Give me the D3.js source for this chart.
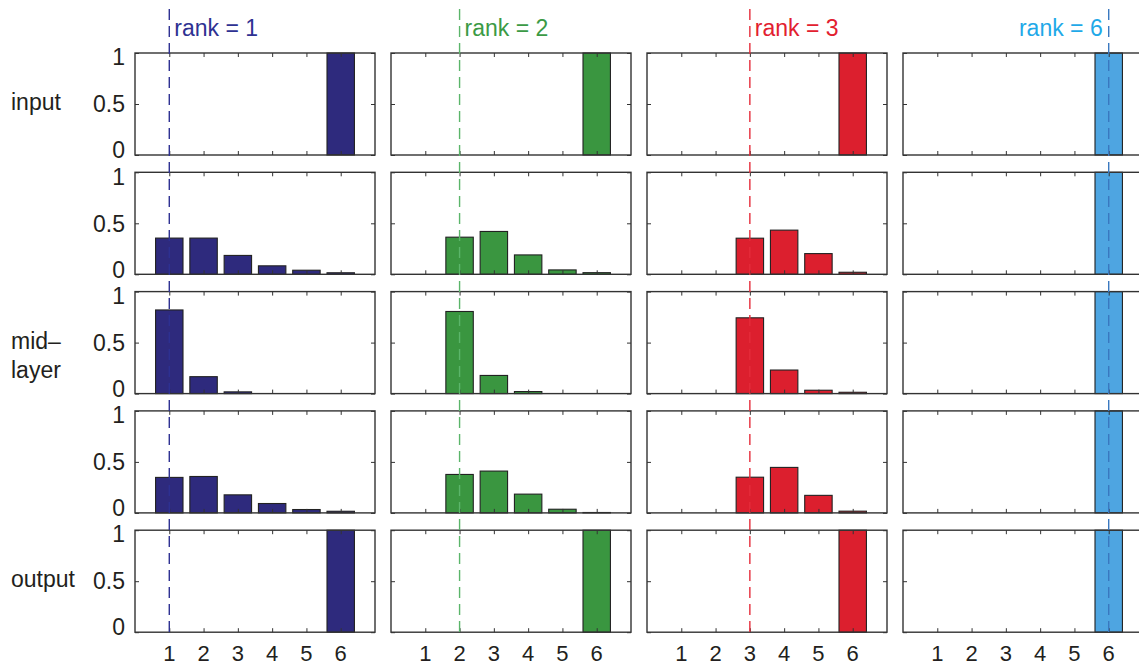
<!DOCTYPE html>
<html>
<head>
<meta charset="utf-8">
<script src="https://cdn.jsdelivr.net/npm/d3@7"></script>
<style>
  html, body { margin: 0; padding: 0; background: #fff; }
  svg { display: block; font-family: "Liberation Sans", Arial, Helvetica, sans-serif; }
</style>
</head>
<body>
<svg id="chart" width="1139" height="668"></svg>
<script>
// Rank of the item shown in each column
const ranks = [1, 2, 3, 6];
const positions = [1, 2, 3, 4, 5, 6];
const yTicks = [0, 0.5, 1];
const yTickLabels = ["0", "0.5", "1"];
const rowLabels = [["input"], [], ["mid\u2013", "layer"], [], ["output"]];

// Activation per position, one array per column (rank 1, 2, 3, 6)
const inputLayer = [
  [0, 0, 0, 0, 0, 1],
  [0, 0, 0, 0, 0, 1],
  [0, 0, 0, 0, 0, 1],
  [0, 0, 0, 0, 0, 1]
];
const encoderLayer = [
  [0.355, 0.355, 0.185, 0.083, 0.04, 0.015],
  [0, 0.364, 0.42, 0.19, 0.043, 0.016],
  [0, 0, 0.354, 0.433, 0.203, 0.02],
  [0, 0, 0, 0, 0, 1]
];
const midLayer = [
  [0.82, 0.166, 0.017, 0, 0, 0],
  [0, 0.805, 0.178, 0.02, 0, 0],
  [0, 0, 0.743, 0.231, 0.033, 0.013],
  [0, 0, 0, 0, 0, 1]
];
const decoderLayer = [
  [0.348, 0.357, 0.177, 0.092, 0.033, 0.016],
  [0, 0.377, 0.41, 0.184, 0.036, 0.004],
  [0, 0, 0.35, 0.446, 0.172, 0.017],
  [0, 0, 0, 0, 0, 1]
];
const outputLayer = [
  [0, 0, 0, 0, 0, 1],
  [0, 0, 0, 0, 0, 1],
  [0, 0, 0, 0, 0, 1],
  [0, 0, 0, 0, 0, 1]
];
const layers = [inputLayer, encoderLayer, midLayer, decoderLayer, outputLayer];

const barColors = ["#2e2a7d", "#3a9640", "#dc1f2e", "#4ea5e1"];
const lineColors = ["#2e3192", "#5bb56a", "#e52c3a", "#3a78c0"];
const textColors = ["#2e3192", "#3b9a45", "#e2202f", "#1fa9e8"];

// Layout
const colX0 = 135, colStep = 256, panelW = 240;
const rowY0 = 53, rowStep = 119.3, panelH = 102;
const textColor = "#231f20";
const frameColor = "#333";
const fontSize = 23;

const svg = d3.select("#chart");
const x = d3.scaleLinear().domain([0, 7]).range([0, panelW]);
const y = d3.scaleLinear().domain([0, 1]).range([panelH, 0]);
const barW = x(0.8) - x(0);

layers.forEach((layer, r) => {
  layer.forEach((vals, c) => {
    const g = svg.append("g")
      .attr("transform", `translate(${colX0 + c * colStep},${rowY0 + r * rowStep})`);

    g.append("rect")
      .attr("width", panelW).attr("height", panelH)
      .attr("fill", "#fff");

    g.selectAll("rect.bar")
      .data(vals.map((v, i) => ({ p: positions[i], v })).filter(d => d.v > 0))
      .join("rect")
      .attr("class", "bar")
      .attr("x", d => x(d.p) - barW / 2)
      .attr("y", d => y(d.v))
      .attr("width", barW)
      .attr("height", d => y(0) - y(d.v))
      .attr("fill", barColors[c])
      .attr("stroke", "#222")
      .attr("stroke-width", 1.1);

    // inward ticks on all four sides
    const tickLen = 4;
    const axisStyle = sel => {
      sel.select(".domain").remove();
      sel.selectAll("line").attr("stroke", frameColor).attr("stroke-width", 1);
    };
    g.append("g").attr("transform", `translate(0,${panelH})`)
      .call(d3.axisBottom(x).tickValues(positions).tickSize(-tickLen).tickFormat(""))
      .call(axisStyle);
    g.append("g")
      .call(d3.axisTop(x).tickValues(positions).tickSize(-tickLen).tickFormat(""))
      .call(axisStyle);
    g.append("g")
      .call(d3.axisLeft(y).tickValues(yTicks).tickSize(-tickLen).tickFormat(""))
      .call(axisStyle);
    g.append("g").attr("transform", `translate(${panelW},0)`)
      .call(d3.axisRight(y).tickValues(yTicks).tickSize(-tickLen).tickFormat(""))
      .call(axisStyle);

    g.append("rect")
      .attr("width", panelW).attr("height", panelH)
      .attr("fill", "none")
      .attr("stroke", frameColor)
      .attr("stroke-width", 1.4);

    // y tick labels on the first column; end labels nudged inward
    if (c === 0) {
      g.selectAll("text.ytick")
        .data(yTicks)
        .join("text")
        .attr("class", "ytick")
        .attr("x", -10)
        .attr("y", d => y(d) + (d === 1 ? 4 : d === 0 ? -5 : 0))
        .attr("dy", "0.36em")
        .attr("text-anchor", "end")
        .attr("font-size", fontSize)
        .attr("fill", textColor)
        .text((d, i) => yTickLabels[i]);
    }

    // x tick labels on the bottom row
    if (r === layers.length - 1) {
      g.selectAll("text.xtick")
        .data(positions)
        .join("text")
        .attr("class", "xtick")
        .attr("x", d => x(d))
        .attr("y", panelH + 29)
        .attr("text-anchor", "middle")
        .attr("font-size", 22)
        .attr("fill", textColor)
        .text(d => d);
    }
  });
});

// Row labels
rowLabels.forEach((lines, r) => {
  const cy = rowY0 + r * rowStep + panelH / 2;
  lines.forEach((t, i) => {
    svg.append("text")
      .attr("x", 11)
      .attr("y", cy - 2 + i * 29)
      .attr("dy", "0.36em")
      .attr("font-size", fontSize)
      .attr("fill", textColor)
      .text(t);
  });
});

// Rank marker lines and labels
const lastBottom = rowY0 + (layers.length - 1) * rowStep + panelH;
ranks.forEach((rk, c) => {
  const lx = colX0 + c * colStep + x(rk);
  svg.append("line")
    .attr("x1", lx).attr("x2", lx)
    .attr("y1", 9).attr("y2", lastBottom)
    .attr("stroke", lineColors[c])
    .attr("stroke-width", 1.4)
    .attr("stroke-dasharray", "11,6");
  const last = c === ranks.length - 1;
  svg.append("text")
    .attr("x", last ? lx - 6 : lx + 5)
    .attr("y", 36)
    .attr("text-anchor", last ? "end" : "start")
    .attr("font-size", fontSize)
    .attr("fill", textColors[c])
    .text(`rank = ${rk}`);
});
</script>
</body>
</html>
